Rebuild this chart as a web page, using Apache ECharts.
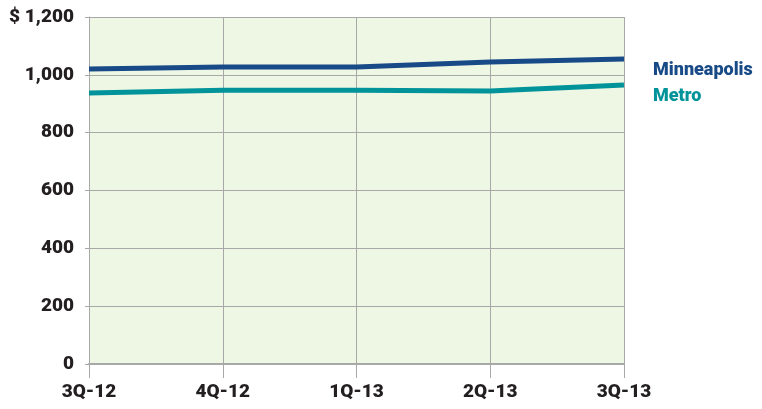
<!DOCTYPE html>
<html><head><meta charset="utf-8">
<script src="https://cdn.jsdelivr.net/npm/echarts@6/dist/echarts.min.js"></script>
<style>html,body{margin:0;padding:0;background:#fff}#c{width:762px;height:409px}</style>
</head><body><div id="c"></div>
<script>
const categories = ['3Q-12','4Q-12','1Q-13','2Q-13','3Q-13'];
const minneapolis = [1020, 1027, 1027, 1044, 1055];
const metro = [937, 947, 947, 944, 965];
const seriesNames = ['Minneapolis','Metro'];
const font = 'Roboto, sans-serif';
const chart = echarts.init(document.getElementById('c'));
const grid = '#a8a8a8';
chart.setOption({
  animation:false,
  grid:{left:89,right:138,top:17,bottom:45,show:true,backgroundColor:'#eef6e4',borderWidth:0},
  xAxis:{type:'category',data:categories,boundaryGap:false,
    axisLine:{lineStyle:{color:grid,width:2}},
    axisTick:{show:true,length:14,lineStyle:{color:grid,width:1}},
    splitLine:{show:true,lineStyle:{color:grid,width:1}},
    axisLabel:{color:'#231f20',fontFamily:font,fontWeight:900,fontSize:19,margin:19}},
  yAxis:{type:'value',min:0,max:1200,interval:200,
    axisLine:{show:true,lineStyle:{color:grid,width:1}},
    axisTick:{show:true,length:4,lineStyle:{color:grid}},
    splitLine:{show:true,lineStyle:{color:grid,width:1}},
    axisLabel:{color:'#231f20',fontFamily:font,fontWeight:900,fontSize:19,margin:15,
      formatter:v=>{const s=v>=1000?Math.floor(v/1000)+','+String(v%1000).padStart(3,'0'):String(v);return v===1200?'$ '+s:s;}}},
  series:[
    {name:seriesNames[0],type:'line',data:minneapolis,symbol:'none',lineStyle:{color:'#174a86',width:5},
     endLabel:{show:true,formatter:'{a}',offset:[21,12],color:'#174a86',fontFamily:font,fontWeight:900,fontSize:18}},
    {name:seriesNames[1],type:'line',data:metro,symbol:'none',lineStyle:{color:'#00939a',width:5},
     endLabel:{show:true,formatter:'{a}',offset:[21,12],color:'#00939a',fontFamily:font,fontWeight:900,fontSize:18}}
  ]
});
</script></body></html>
